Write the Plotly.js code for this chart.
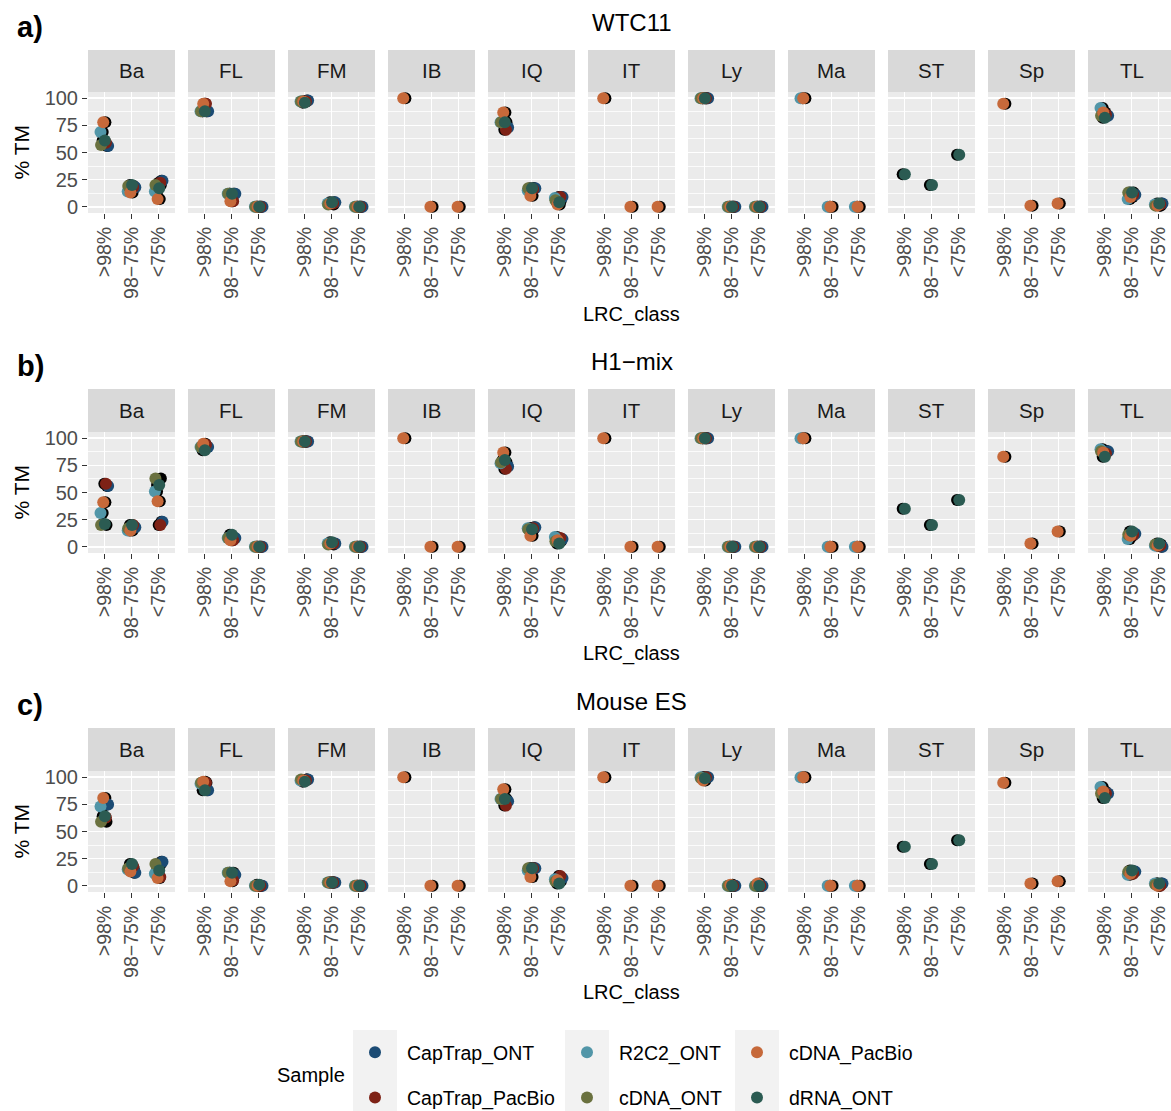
<!DOCTYPE html>
<html><head><meta charset="utf-8">
<script src="https://cdn.plot.ly/plotly-3.0.1.min.js"></script>
<style>html,body{margin:0;padding:0;overflow:hidden;background:#fff}#chart{width:1171px;height:1111px}</style>
</head><body><div id="chart"></div>
<script>
const facets = ["Ba","FL","FM","IB","IQ","IT","Ly","Ma","ST","Sp","TL"];
const lrcClasses = [">98%", "98\u221275%", "<75%"];
const samples = ["CapTrap_ONT","CapTrap_PacBio","R2C2_ONT","cDNA_ONT","cDNA_PacBio","dRNA_ONT"];
const sampleColors = ["#1B4B74","#7E2216","#5296A8","#6A713F","#C6693A","#2B5B52"];
const datasets = ["WTC11","H1\u2212mix","Mouse ES"];
const panelLetters = ["a)","b)","c)"];
const N = null;

// % TM per facet (Ba, FL, FM, IB, IQ, IT, Ly, Ma, ST, Sp, TL), three LRC classes each; null = not submitted
const WTC11_CapTrap_ONT    = [56,18,24, 88,12,0, 98,4,0, N,N,N, 73,17,9, N,N,N, 100,0,0, N,N,N, N,N,N, N,N,N, 84,11,3];
const WTC11_CapTrap_PacBio = [59,18,22, 95,5,0, 97,3,0, N,N,N, 71,16,9, N,N,N, 100,0,0, N,N,N, N,N,N, N,N,N, 85,11,2];
const WTC11_R2C2_ONT       = [69,14,14, 88,12,0, 97,3,0, N,N,N, 78,15,8, N,N,N, 100,0,0, 100,0,0, N,N,N, N,N,N, 91,7,2];
const WTC11_cDNA_ONT       = [57,19,20, 88,12,0, 97,2,0, N,N,N, 78,17,6, N,N,N, 100,0,0, N,N,N, N,N,N, N,N,N, 84,13,1];
const WTC11_cDNA_PacBio    = [78,13,7, 95,5,0, 97,3,0, 100,0,0, 87,10,2, 100,0,0, 100,0,0, 100,0,0, N,N,N, 95,1,3, 87,9,1];
const WTC11_dRNA_ONT       = [61,20,17, 88,12,0, 96,4,0, N,N,N, 78,17,4, N,N,N, 100,0,0, N,N,N, 30,20,48, N,N,N, 82,13,3];

const H1mix_CapTrap_ONT    = [56,18,23, 92,8,0, 97,3,0, N,N,N, 74,18,7, N,N,N, 100,0,0, N,N,N, N,N,N, N,N,N, 88,12,0];
const H1mix_CapTrap_PacBio = [58,20,20, 94,6,0, 97,3,0, N,N,N, 72,17,8, N,N,N, 100,0,0, N,N,N, N,N,N, N,N,N, 86,11,1];
const H1mix_R2C2_ONT       = [31,15,51, 92,8,0, 97,3,0, N,N,N, 77,17,9, N,N,N, 100,0,0, 100,0,0, N,N,N, N,N,N, 90,7,1];
const H1mix_cDNA_ONT       = [20,17,63, 92,8,0, 97,2,0, N,N,N, 78,16,5, N,N,N, 100,0,0, N,N,N, N,N,N, N,N,N, 88,11,2];
const H1mix_cDNA_PacBio    = [41,15,42, 95,6,0, 97,3,0, 100,0,0, 87,10,6, 100,0,0, 100,0,0, 100,0,0, N,N,N, 83,3,14, 87,10,1];
const H1mix_dRNA_ONT       = [21,20,57, 89,11,0, 97,4,0, N,N,N, 80,16,3, N,N,N, 100,0,0, N,N,N, 35,20,43, N,N,N, 83,14,3];

const MouseES_CapTrap_ONT    = [75,12,22, 88,10,0, 98,3,0, N,N,N, 78,16,7, N,N,N, 100,0,0, N,N,N, N,N,N, N,N,N, 85,13,2];
const MouseES_CapTrap_PacBio = [63,18,8, 95,5,0, 97,3,0, N,N,N, 74,16,9, N,N,N, 100,0,0, N,N,N, N,N,N, N,N,N, 85,11,0];
const MouseES_R2C2_ONT       = [73,15,11, 94,12,0, 97,3,0, N,N,N, 80,14,6, N,N,N, 100,0,0, 100,0,0, N,N,N, N,N,N, 91,10,2];
const MouseES_cDNA_ONT       = [59,16,20, 95,12,0, 98,3,0, N,N,N, 80,16,4, N,N,N, 99,0,0, N,N,N, N,N,N, N,N,N, 85,13,1];
const MouseES_cDNA_PacBio    = [81,13,7, 96,4,0, 97,3,0, 100,0,0, 89,8,5, 100,0,0, 97,1,2, 100,0,0, N,N,N, 95,2,4, 87,11,0];
const MouseES_dRNA_ONT       = [64,20,14, 88,12,1, 96,3,0, N,N,N, 80,16,2, N,N,N, 99,0,0, N,N,N, 36,20,42, N,N,N, 81,14,2];

const tables = [
  [WTC11_CapTrap_ONT, WTC11_CapTrap_PacBio, WTC11_R2C2_ONT, WTC11_cDNA_ONT, WTC11_cDNA_PacBio, WTC11_dRNA_ONT],
  [H1mix_CapTrap_ONT, H1mix_CapTrap_PacBio, H1mix_R2C2_ONT, H1mix_cDNA_ONT, H1mix_cDNA_PacBio, H1mix_dRNA_ONT],
  [MouseES_CapTrap_ONT, MouseES_CapTrap_PacBio, MouseES_R2C2_ONT, MouseES_cDNA_ONT, MouseES_cDNA_PacBio, MouseES_dRNA_ONT]
];

// horizontal jitter (category units) per sample, for the coloured layer and the black layer
const jitterColour = [0.14, 0.06, -0.14, -0.12, -0.04, 0.02];
const jitterBlack  = [0.10, 0.00, -0.06, 0.08, 0.04, -0.06];

// ---- layout geometry (pixels) ----
const W = 1171, H = 1111;
const colLeft0 = 88, colStep = 100, colW = 87;
const rowsGeo = [
  {stripTop: 50,  top: 92,  bottom: 213, titleY: 22,  letterY: 27,  xTitleY: 314},
  {stripTop: 389, top: 432, bottom: 553, titleY: 362, letterY: 366, xTitleY: 653},
  {stripTop: 728, top: 771, bottom: 892, titleY: 701, letterY: 705, xTitleY: 992}
];
const px = v => v / W;
const py = v => 1 - v / H;
const FONT = "Liberation Sans, Arial, sans-serif";
const MS = 12;

const data = [];
const layout = {
  width: W, height: H,
  margin: {l: 0, r: 0, t: 0, b: 0, autoexpand: false},
  paper_bgcolor: "white", plot_bgcolor: "#EBEBEB",
  font: {family: FONT, color: "#1A1A1A"},
  showlegend: true,
  shapes: [], annotations: []
};

const legendFor = ["legend","legend","legend2","legend2","legend3","legend3"];

for (let r = 0; r < 3; r++) {
  const g = rowsGeo[r];
  for (let f = 0; f < facets.length; f++) {
    const k = r * facets.length + f + 1;
    const xa = "x" + (k === 1 ? "" : k), ya = "y" + (k === 1 ? "" : k);
    const left = colLeft0 + f * colStep;
    const right = Math.min(left + colW, W);           // last panel is cut by the image edge
    const xEnd = 0.4 + 3.2 * (right - left) / colW;    // keep the same category scale
    layout["xaxis" + (k === 1 ? "" : k)] = {
      domain: [px(left), px(right)], anchor: ya,
      range: [0.4, xEnd], tickmode: "array", tickvals: [1, 2, 3], ticktext: lrcClasses,
      tickangle: -90, ticks: "outside", ticklen: 5, tickwidth: 1.5, tickcolor: "#333333",
      tickfont: {size: 19.5, color: "#4D4D4D", family: FONT},
      showgrid: true, gridcolor: "white", gridwidth: 1.6, zeroline: false, showline: false, fixedrange: true
    };
    layout["yaxis" + (k === 1 ? "" : k)] = {
      domain: [py(g.bottom), py(g.top)], anchor: xa,
      range: [-5.8, 105.8], tickmode: "linear", tick0: 0, dtick: 25,
      minor: {dtick: 12.5, showgrid: true, gridcolor: "white", gridwidth: 0.8},
      showticklabels: f === 0, ticks: f === 0 ? "outside" : "", ticklen: 5, tickwidth: 1.5, tickcolor: "#333333",
      tickfont: {size: 20, color: "#4D4D4D", family: FONT},
      showgrid: true, gridcolor: "white", gridwidth: 1.6, zeroline: false, showline: false, fixedrange: true
    };
    // strip
    layout.shapes.push({type: "rect", xref: "paper", yref: "paper", layer: "below",
      x0: px(left), x1: px(right), y0: py(g.top), y1: py(g.stripTop),
      fillcolor: "#D9D9D9", line: {width: 0}});
    layout.annotations.push({xref: "paper", yref: "paper", x: px(left + colW / 2), y: py((g.stripTop + g.top) / 2),
      text: facets[f], showarrow: false, xanchor: "center", yanchor: "middle",
      font: {size: 20.5, color: "#1A1A1A", family: FONT}});

    // black layer
    const bx = [], by = [];
    for (let s = 0; s < samples.length; s++) {
      for (let c = 0; c < 3; c++) {
        const v = tables[r][s][f * 3 + c];
        if (v !== null) { bx.push(c + 1 + jitterBlack[s]); by.push(v); }
      }
    }
    if (bx.length) data.push({type: "scatter", mode: "markers", x: bx, y: by, xaxis: xa, yaxis: ya,
      marker: {color: "black", size: MS}, showlegend: false, hoverinfo: "skip", cliponaxis: false});
    // coloured layer
    for (let s = 0; s < samples.length; s++) {
      const cx = [], cy = [];
      for (let c = 0; c < 3; c++) {
        const v = tables[r][s][f * 3 + c];
        if (v !== null) { cx.push(c + 1 + jitterColour[s]); cy.push(v); }
      }
      const first = (r === 0 && f === 0);
      if (!cx.length && !first) continue;
      data.push({type: "scatter", mode: "markers", x: cx, y: cy, xaxis: xa, yaxis: ya,
        name: samples[s], legendgroup: samples[s], legend: legendFor[s], cliponaxis: false,
        showlegend: first, marker: {color: sampleColors[s], size: MS}});
    }
  }
  // row title, letter, axis titles
  layout.annotations.push({xref: "paper", yref: "paper", x: px(631.5), y: py(g.titleY), text: datasets[r],
    showarrow: false, xanchor: "center", yanchor: "middle", font: {size: 24, color: "black", family: FONT}});
  layout.annotations.push({xref: "paper", yref: "paper", x: px(15), y: py(g.letterY), text: "<b>" + panelLetters[r] + "</b>",
    showarrow: false, xanchor: "left", yanchor: "middle", font: {size: 29, color: "black", family: FONT}});
  layout.annotations.push({xref: "paper", yref: "paper", x: px(631.5), y: py(g.xTitleY), text: "LRC_class",
    showarrow: false, xanchor: "center", yanchor: "middle", font: {size: 20, color: "black", family: FONT}});
  layout.annotations.push({xref: "paper", yref: "paper", x: px(21), y: py((g.top + g.bottom) / 2), text: "% TM",
    textangle: -90, showarrow: false, xanchor: "center", yanchor: "middle", font: {size: 21, color: "black", family: FONT}});
}

// legend key backgrounds and title
const keyCols = [353, 565, 735];
keyCols.forEach(x0 => layout.shapes.push({type: "rect", xref: "paper", yref: "paper", layer: "below",
  x0: px(x0), x1: px(x0 + 44), y0: 0, y1: py(1030), fillcolor: "#F2F2F2", line: {width: 0}}));
layout.annotations.push({xref: "paper", yref: "paper", x: px(275), y: py(1075), text: "Sample",
  showarrow: false, xanchor: "left", yanchor: "middle", font: {size: 20, color: "black", family: FONT}});

const legendBase = {orientation: "v", xanchor: "left", yanchor: "top", bgcolor: "rgba(0,0,0,0)",
  borderwidth: 0, tracegroupgap: 17, itemwidth: 54, font: {size: 19.5, color: "black", family: FONT}};
layout.legend  = Object.assign({}, legendBase, {x: px(343), y: py(1033)});
layout.legend2 = Object.assign({}, legendBase, {x: px(555), y: py(1033)});
layout.legend3 = Object.assign({}, legendBase, {x: px(725), y: py(1033)});

Plotly.newPlot("chart", data, layout, {staticPlot: true});
</script>
</body></html>
